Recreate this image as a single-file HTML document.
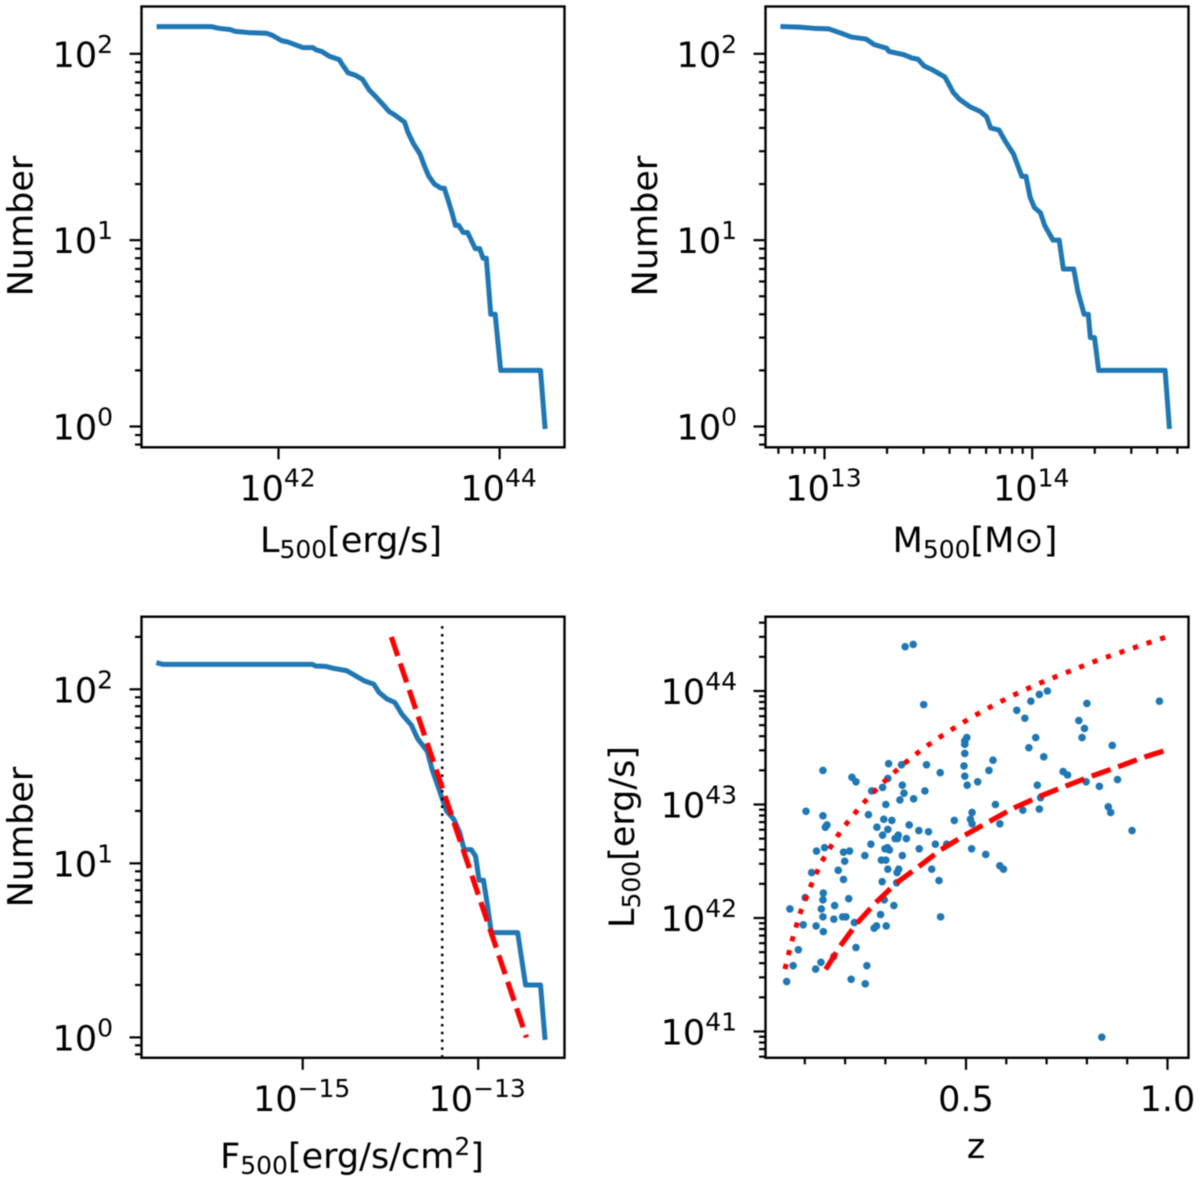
<!DOCTYPE html>
<html lang="en">
<head>
<meta charset="utf-8">
<title>Cluster sample distributions</title>
<style>
html,body{margin:0;padding:0;background:#fff;}
#figure{display:block;filter:blur(0.45px);font-family:"DejaVu Sans","Liberation Sans",sans-serif;fill:#000;}
</style>
</head>
<body>
<svg id="figure" xmlns="http://www.w3.org/2000/svg" width="1200" height="1181" viewBox="0 0 1200 1181">
  <rect x="0" y="0" width="1200" height="1181" fill="#fff"/>
  <g id="panel-lum"></g>
  <g id="panel-mass"></g>
  <g id="panel-flux"></g>
  <g id="panel-scatter"></g>

  <text x="32.5" y="226" font-size="35" text-anchor="middle" transform="rotate(-90 32.5 226)">Number</text>
  <text x="351" y="552" font-size="35" text-anchor="middle">L<tspan font-size="25" dy="6">500</tspan><tspan dy="-6">[erg/s]</tspan></text>

  <text x="657" y="226" font-size="35" text-anchor="middle" transform="rotate(-90 657 226)">Number</text>
  <text x="975" y="552" font-size="35" text-anchor="middle">M<tspan font-size="25" dy="6">500</tspan><tspan dy="-6">[M⊙]</tspan></text>

  <text x="32.5" y="837" font-size="35" text-anchor="middle" transform="rotate(-90 32.5 837)">Number</text>
  <text x="352" y="1168" font-size="35" text-anchor="middle">F<tspan font-size="25" dy="6">500</tspan><tspan dy="-6">[erg/s/cm</tspan><tspan font-size="25" dy="-13">2</tspan><tspan dy="13">]</tspan></text>

  <text x="634" y="837" font-size="35" text-anchor="middle" transform="rotate(-90 634 837)">L<tspan font-size="25" dy="6">500</tspan><tspan dy="-6">[erg/s]</tspan></text>
  <text x="976" y="1158" font-size="35" text-anchor="middle">z</text>
</svg>
<script>
// ---- Luminosity cumulative counts ----
const lumLogX = [40.92,41.39,41.46,41.56,41.61,41.73,41.89,41.94,42.03,42.08,42.22,42.31,42.34,42.39,42.46,42.55,42.58,42.63,42.69,42.76,42.82,42.89,42.95,43.0,43.05,43.14,43.17,43.22,43.28,43.32,43.36,43.41,43.47,43.50,43.54,43.57,43.60,43.63,43.67,43.71,43.78,43.82,43.85,43.88,43.92,43.96,44.01,44.37,44.41];
const lumCounts = [140,140,137,135,132,130,129,126,117.5,116,108,108,105,103,97,93,87,79,77,73,64,58,53,49,47,43,38,33,29,25,22,20,19,19,16,14,12,12,11,11,9,9,8,8,4,4,2,2,1];
const lumXTicks = [42,44];

// ---- Mass cumulative counts ----
const massLogX = [12.80,12.88,12.95,13.02,13.08,13.13,13.20,13.24,13.30,13.31,13.38,13.42,13.45,13.48,13.52,13.58,13.62,13.65,13.70,13.75,13.78,13.80,13.84,13.87,13.91,13.95,13.97,13.99,14.01,14.04,14.06,14.10,14.13,14.15,14.20,14.22,14.25,14.27,14.28,14.30,14.32,14.64,14.66];
const massCounts = [140,139,137,136,129,123,120,112,107,103,99,95,93.5,86,82,75,62,57,52,49,46,40,39,34,29,22,22,17,15,14,12,10,10,7,7,5.3,4,4,3,3,2,2,1];
const massXTicks = [13,14];

// ---- Flux cumulative counts ----
const fluxLogX = [-16.64,-16.59,-14.89,-14.85,-14.74,-14.65,-14.50,-14.39,-14.30,-14.19,-14.13,-14.04,-13.95,-13.87,-13.76,-13.69,-13.58,-13.52,-13.45,-13.39,-13.36,-13.28,-13.21,-13.16,-13.08,-13.03,-12.99,-12.94,-12.90,-12.85,-12.55,-12.46,-12.29,-12.24];
const fluxCounts = [141,139,139,136,135.5,132,128,119,112,107,96,88,84,72,62,52,44,34,27,22,20,18,15,12,12,11,8,8,6,4,4,2,2,1];
const fluxXTicks = [-15,-13];
const fitLogFlux = [-13.99,-12.45];
const fitCounts = [200,1];
const limitLogFlux = [-13.41,-13.41];
const limitCounts = [0.765,240];

// ---- Shared count axis ----
const countYTicks = [0,1,2];

// ---- Redshift vs luminosity scatter ----
const scatterZ = [0.349,0.369,0.395,0.145,0.308,0.340,0.402,0.436,0.217,0.227,0.306,0.293,0.266,0.342,0.346,0.336,0.370,0.398,0.301,0.103,0.145,0.258,0.296,0.316,0.155,0.151,0.279,0.306,0.359,0.383,0.407,0.471,0.293,0.332,0.324,0.352,0.330,
0.264,0.149,0.129,0.196,0.211,0.249,0.299,0.305,0.310,0.342,0.384,0.424,0.452,0.199,0.290,0.301,0.183,0.117,0.306,0.329,0.333,0.415,0.196,0.292,0.328,0.433,0.146,0.101,0.145,0.209,0.297,0.174,0.321,0.141,0.063,0.145,0.172,0.194,0.202,0.288,0.437,0.223,0.096,0.128,0.278,0.272,0.302,0.146,0.227,0.084,0.172,0.140,0.071,0.254,0.127,0.215,0.250,0.055,
0.502,0.497,0.497,0.497,0.495,0.497,0.503,0.529,0.557,0.567,0.515,0.511,0.515,0.573,0.584,0.514,0.549,0.584,0.593,0.626,0.646,0.661,0.682,0.702,0.800,0.980,0.780,0.794,0.788,0.863,0.673,0.656,0.693,0.741,0.752,0.798,0.831,0.876,0.677,0.685,0.682,0.641,0.853,0.859,0.912,0.837];
const scatterLogL = [44.39,44.41,43.88,43.30,43.36,43.35,43.35,43.28,43.24,43.20,43.23,43.15,43.12,43.17,43.10,43.04,43.05,43.12,43.00,42.94,42.90,42.91,42.87,42.86,42.82,42.80,42.80,42.78,42.82,42.77,42.76,42.86,42.73,42.73,42.70,42.70,42.70,
42.65,42.62,42.59,42.58,42.59,42.55,42.61,42.62,42.60,42.55,42.61,42.65,42.65,42.50,42.51,42.51,42.42,42.40,42.43,42.40,42.43,42.43,42.34,42.32,42.31,42.33,42.22,42.18,42.16,42.17,42.16,42.11,42.11,42.08,42.08,42.01,41.99,42.01,42.01,42.03,42.01,41.96,41.94,41.93,41.93,41.91,41.93,41.88,41.74,41.72,41.66,41.61,41.58,41.58,41.55,41.46,41.42,41.44,
43.59,43.56,43.53,43.45,43.34,43.25,43.17,43.20,43.30,43.39,42.93,42.87,42.83,43.00,42.83,42.61,42.56,42.46,42.43,43.83,43.76,43.91,43.97,44.00,43.89,43.91,43.74,43.67,43.59,43.52,43.59,43.50,43.42,43.29,43.26,43.20,43.16,43.22,43.17,43.06,42.96,42.95,42.98,42.93,42.77,40.95];
const upperCurveZ = [0.0508,0.0674,0.0872,0.112,0.141,0.1766,0.1964,0.2394,0.2874,0.3395,0.3925,0.4504,0.5099,0.5711,0.6332,0.6968,0.7614,0.8259,0.8912,0.9574,0.9921,1.0];
const upperCurveLogL = [41.55,41.79,42.03,42.26,42.49,42.70,42.80,42.99,43.17,43.34,43.49,43.63,43.76,43.88,43.99,44.09,44.18,44.27,44.35,44.43,44.47,44.48];
const lowerCurveZ = [0.1517,0.1873,0.2287,0.2758,0.3279,0.3817,0.4371,0.4975,0.5579,0.6191,0.682,0.7456,0.8118,0.8755,0.9442,0.9896,1.0];
const lowerCurveLogL = [41.547,41.75,41.95,42.135,42.31,42.45,42.60,42.73,42.85,42.97,43.07,43.16,43.25,43.33,43.42,43.47,43.48];
const scatterYTicks = [41,42,43,44];
const scatterXMajor = ["0.5","1.0"];
const scatterXMinor = [0.1,0.2,0.3,0.4,0.6,0.7,0.8,0.9];

// ---- Axis functions ----
const NS = 'http://www.w3.org/2000/svg';
const logMult = [2,3,4,5,6,7,8,9];
const INK = '#000';
const BLUE = '#1f77b4';
const RED = '#ff0000';

function linearMap(anchorValue, anchorPx, pxPerUnit) {
  return function (v) { return anchorPx + (v - anchorValue) * pxPerUnit; };
}
function node(tag, attrs) {
  const el = document.createElementNS(NS, tag);
  for (const k in attrs) el.setAttribute(k, attrs[k]);
  return el;
}
function tickX(g, x, y, len) {
  const el = node('line', {x1: x, x2: x, y1: y, y2: y + len, stroke: INK, 'stroke-width': 2.2});
  
  
  g.appendChild(el);
}
function tickY(g, x, y, len) {
  const el = node('line', {x1: x - len, x2: x, y1: y, y2: y, stroke: INK, 'stroke-width': 2.2});
  
  
  g.appendChild(el);
}
function powerLabel(g, exp, x, y, anchor) {
  const el = node('text', {x: x, y: y, 'font-size': 35, 'text-anchor': anchor});
  
  
  el.textContent = '10';
  const sup = node('tspan', {'font-size': 25, dy: -14});
  sup.textContent = String(exp).replace('-', '\u2212');
  el.appendChild(sup);
  g.appendChild(el);
}
function plainLabel(g, str, x, y) {
  const el = node('text', {x: x, y: y, 'font-size': 35, 'text-anchor': 'middle'});
  
  
  el.textContent = str;
  g.appendChild(el);
}
function logYTicks(g, box, yMap, exps, labelRight) {
  for (let d = exps[0] - 1; d <= exps[exps.length - 1]; d++) {
    for (const m of logMult) {
      const py = yMap(d + Math.log10(m));
      if (py >= box.top - 0.5 && py <= box.bottom + 0.5) tickY(g, box.left, py, 6.5);
    }
  }
  for (const e of exps) {
    tickY(g, box.left, yMap(e), 12);
    powerLabel(g, e, labelRight, yMap(e) + 13, 'end');
  }
}
function logXTicks(g, box, xMap, exps, minors) {
  if (minors) {
    for (let d = exps[0] - 1; d <= exps[exps.length - 1]; d++) {
      for (const m of logMult) {
        const px = xMap(d + Math.log10(m));
        if (px >= box.left - 0.5 && px <= box.right + 0.5) tickX(g, px, box.bottom, 6.5);
      }
    }
  }
  for (const e of exps) {
    tickX(g, xMap(e), box.bottom, 12);
    powerLabel(g, e, xMap(e) - 1, box.bottom + 53, 'middle');
  }
}
function path(g, xs, ys, xMap, yMap, style, name) {
  let d = '';
  for (let i = 0; i < xs.length; i++) d += (i ? 'L' : 'M') + xMap(xs[i]).toFixed(2) + ' ' + yMap(ys[i]).toFixed(2);
  const el = node('path', Object.assign({d: d, fill: 'none'}, style));
  
  
  g.appendChild(el);
}
function frame(g, box) {
  const el = node('rect', {x: box.left, y: box.top, width: box.right - box.left, height: box.bottom - box.top, fill: 'none', stroke: INK, 'stroke-width': 2.4});
  
  
  g.appendChild(el);
}
function log10Values(arr) { return arr.map(Math.log10); }

const blueLine = {stroke: BLUE, 'stroke-width': 5, 'stroke-linejoin': 'round', 'stroke-linecap': 'square'};
const redDashed = {stroke: RED, 'stroke-width': 5.2, 'stroke-dasharray': '20 8'};
const redDotted = {stroke: RED, 'stroke-width': 5, 'stroke-dasharray': '5.2 9.1'};

// ---- Top-left panel ----
(function () {
  const g = document.getElementById('panel-lum');
  const box = {left: 141.5, right: 564.5, top: 6.5, bottom: 447.3};
  const x = linearMap(42, 278.5, 110.55);
  const y = linearMap(0, 426.5, -186.35);
  path(g, lumLogX, log10Values(lumCounts), x, y, blueLine, 'luminosity-count-line');
  logYTicks(g, box, y, countYTicks, 113);
  logXTicks(g, box, x, lumXTicks, false);
  frame(g, box);
})();

// ---- Top-right panel ----
(function () {
  const g = document.getElementById('panel-mass');
  const box = {left: 765.5, right: 1188.5, top: 6.5, bottom: 447.3};
  const x = linearMap(13, 824.5, 207.7);
  const y = linearMap(0, 426.5, -186.35);
  path(g, massLogX, log10Values(massCounts), x, y, blueLine, 'mass-count-line');
  logYTicks(g, box, y, countYTicks, 737);
  logXTicks(g, box, x, massXTicks, true);
  frame(g, box);
})();

// ---- Bottom-left panel ----
(function () {
  const g = document.getElementById('panel-flux');
  const box = {left: 141.5, right: 564.5, top: 616.7, bottom: 1057.8};
  const x = linearMap(-15, 302.7, 87.75);
  const y = linearMap(0, 1037.4, -174.05);
  path(g, fluxLogX, log10Values(fluxCounts), x, y, blueLine, 'flux-count-line');
  path(g, limitLogFlux, log10Values(limitCounts), x, y, {stroke: INK, 'stroke-width': 2.5, 'stroke-dasharray': '2.5 5.3'}, 'flux-limit-line');
  path(g, fitLogFlux, log10Values(fitCounts), x, y, redDashed, 'power-law-fit-line');
  logYTicks(g, box, y, countYTicks, 113);
  logXTicks(g, box, x, fluxXTicks, false);
  frame(g, box);
})();

// ---- Bottom-right panel ----
(function () {
  const g = document.getElementById('panel-scatter');
  const box = {left: 765.5, right: 1188.5, top: 616.7, bottom: 1057.8};
  const x = linearMap(0.5, 966, 403);
  const y = linearMap(44, 691, -113.5);
  for (let i = 0; i < scatterZ.length; i++) {
    const c = node('circle', {cx: x(scatterZ[i]).toFixed(2), cy: y(scatterLogL[i]).toFixed(2), r: 3.8, fill: BLUE});
    
    
    g.appendChild(c);
  }
  path(g, upperCurveZ, upperCurveLogL, x, y, redDotted, 'upper-flux-curve');
  path(g, lowerCurveZ, lowerCurveLogL, x, y, redDashed, 'lower-flux-curve');
  logYTicks(g, box, y, scatterYTicks, 737);
  for (const v of scatterXMinor) tickX(g, x(v), box.bottom, 6.5);
  for (const s of scatterXMajor) {
    tickX(g, x(parseFloat(s)), box.bottom, 12);
    plainLabel(g, s, x(parseFloat(s)), box.bottom + 53);
  }
  frame(g, box);
})();
</script>
</body>
</html>
